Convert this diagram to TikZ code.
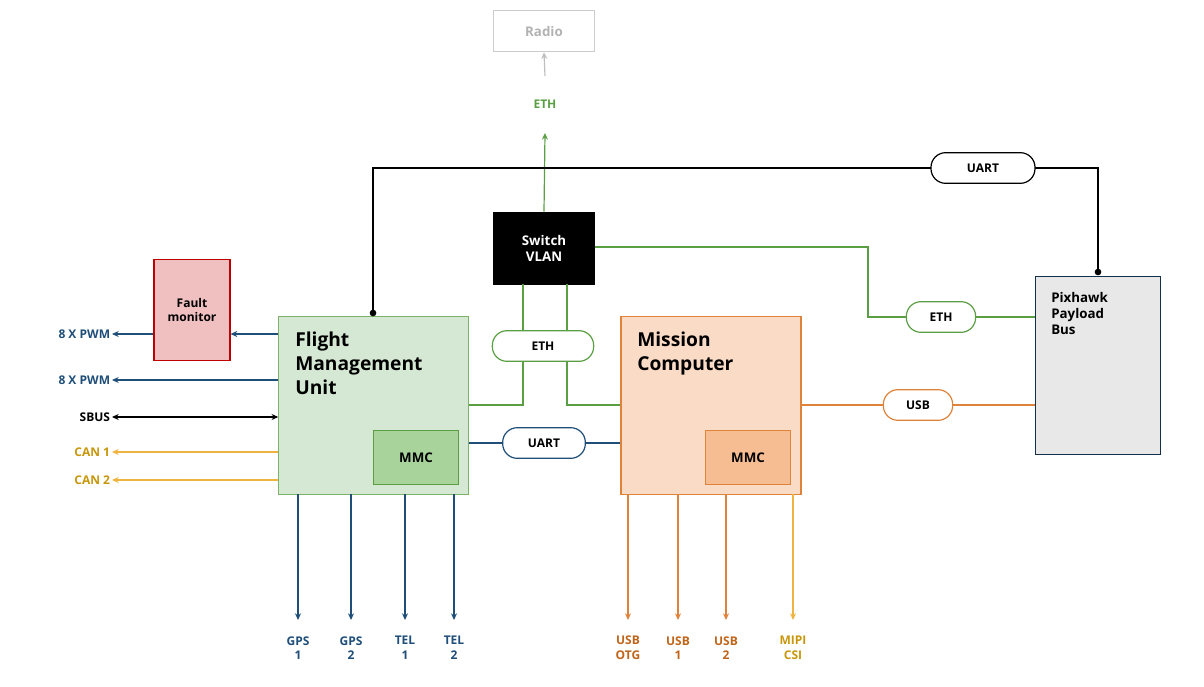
\documentclass[tikz,border=0pt]{standalone}
\usepackage{fontspec}
\setmainfont{Open Sans}
\usetikzlibrary{arrows.meta}
\definecolor{navy}{HTML}{1F4E79}
\definecolor{grn}{HTML}{5B9F45}
\definecolor{org}{HTML}{E0833A}
\definecolor{yel}{HTML}{EFB440}
\definecolor{orgt}{HTML}{C0641A}
\definecolor{yelt}{HTML}{C8960A}
\definecolor{fmufill}{HTML}{D5E8D4}
\definecolor{mmc1fill}{HTML}{A8D49C}
\definecolor{fmfill}{HTML}{F0C0C0}
\definecolor{mcfill}{HTML}{FADBC6}
\definecolor{mmc2fill}{HTML}{F6BC92}
\definecolor{pxfill}{HTML}{E8E8E8}
\begin{document}
\begin{tikzpicture}[x=0.75pt,y=-0.75pt,font=\bfseries,
  pill/.style={draw,rounded corners=11pt,fill=white,minimum width=72pt,minimum height=23pt,line width=0.9pt,font=\bfseries\small},
  lbl/.style={font=\bfseries\small,align=center,inner sep=1pt},
  ar/.style={-{Stealth[length=5pt,width=4.5pt]},line width=0.9pt}]
\useasboundingbox (0,0) rectangle (1204,686);
% boxes
\node[draw=black!20,line width=0.9pt,minimum width=76pt,minimum height=31pt,text=black!30,font=\bfseries] (radio) at (544,31) {Radio};
\node[fill=black,draw=black,minimum width=76pt,minimum height=54pt,text=white,align=center,font=\bfseries] (sw) at (544,248) {Switch\\VLAN};
\node[fill=fmfill,draw=red!75!black,line width=0.9pt,minimum width=57pt,minimum height=76pt,align=center,font=\bfseries\small] (fm) at (192,310) {Fault\\monitor};
\node[fill=fmufill,draw=grn!80,line width=0.9pt,minimum width=142pt,minimum height=133pt] (fmu) at (373.5,405.5) {};
\node[anchor=north west,align=left,font=\bfseries\Large,inner sep=0] (fmut) at (295,332) {Flight\\Management\\Unit};
\node[fill=mmc1fill,draw=grn,line width=0.9pt,minimum width=64pt,minimum height=41pt,font=\bfseries] (mmc1) at (416,457.5) {MMC};
\node[fill=mcfill,draw=org,line width=0.9pt,minimum width=135pt,minimum height=133pt] (mc) at (711,405.5) {};
\node[anchor=north west,align=left,font=\bfseries\Large,inner sep=0] (mct) at (637,332) {Mission\\Computer};
\node[fill=mmc2fill,draw=org,line width=0.9pt,minimum width=64pt,minimum height=41pt,font=\bfseries] (mmc2) at (748,457.5) {MMC};
\node[fill=pxfill,draw=navy!60!black,line width=0.9pt,minimum width=94pt,minimum height=133pt] (px) at (1098,365.5) {};
\node[anchor=north west,align=left,font=\bfseries,inner sep=0] (pxt) at (1051,292) {Pixhawk\\Payload\\Bus};
% top
\node[lbl,text=grn] (eth0) at (545,104) {ETH};
\draw[ar,black!25] (545,76) -- (radio.south);
\draw[ar,grn] (sw.north) -- (545,133);
% UART
\coordinate (u1) at (373,168); \coordinate (u2) at (1098,168);
\draw[line width=0.9pt] (373,313) -- (u1) -- (u2) -- (1098,272);
\fill (373,313) circle (2.5pt); \fill (1098,272) circle (2.5pt);
\node[pill,minimum width=78pt] (uart1) at (983,168) {UART};
% switch to fmu/mc
\draw[grn,line width=0.9pt] (523,284) -- (523,405) -- (fmu.east|-0,405);
\draw[grn,line width=0.9pt] (567,284) -- (567,405) -- (mc.west|-0,405);
\node[pill,draw=grn,minimum width=76pt] (eth1) at (543,346) {ETH};
\draw[grn,line width=0.9pt] (sw.east|-0,247) -- (868,247) -- (868,317) -- (px.west|-0,317);
\node[pill,draw=grn,minimum width=52pt] (eth2) at (941,317) {ETH};
\draw[org,line width=0.9pt] (mc.east|-0,405) -- (px.west|-0,405);
\node[pill,draw=org,minimum width=52pt] (usb) at (918,405) {USB};
\draw[navy,line width=0.9pt] (fmu.east|-0,443) -- (mc.west|-0,443);
\node[pill,draw=navy,minimum width=62pt] (uart2) at (544,443) {UART};
% left
\draw[ar,navy] (fmu.west|-0,334) -- (fm.east|-0,334);
\draw[ar,navy] (fm.west|-0,334) -- (112,334) node[left,lbl,text=navy] (p1) {8 X PWM};
\draw[ar,navy] (fmu.west|-0,380) -- (112,380) node[left,lbl,text=navy] (p2) {8 X PWM};
\draw[{Stealth[length=5pt,width=4.5pt]}-{Stealth[length=5pt,width=4.5pt]},line width=0.9pt] (fmu.west|-0,417) -- (112,417) node[left,lbl] (sb) {SBUS};
\draw[ar,yel] (fmu.west|-0,452) -- (112,452) node[left,lbl,text=yelt] (c1) {CAN 1};
\draw[ar,yel] (fmu.west|-0,480) -- (112,480) node[left,lbl,text=yelt] (c2) {CAN 2};
% bottom
\foreach \x/\t/\n in {298/GPS\\1/g1,351/GPS\\2/g2,405/TEL\\1/t1,454/TEL\\2/t2}{
  \draw[ar,navy] (\x,494) -- (\x,620);
  \node[lbl,text=navy] (\n) at (\x,648) {\t};}
\foreach \x/\t/\n in {628/USB\\OTG/u0,678/USB\\1/ua,726/USB\\2/ub}{
  \draw[ar,org] (\x,494) -- (\x,620);
  \node[lbl,text=orgt] (\n) at (\x,648) {\t};}
\draw[ar,yel] (793,494) -- (793,620);
\node[lbl,text=yelt] (mipi) at (793,648) {MIPI\\CSI};
\end{tikzpicture}
\end{document}
